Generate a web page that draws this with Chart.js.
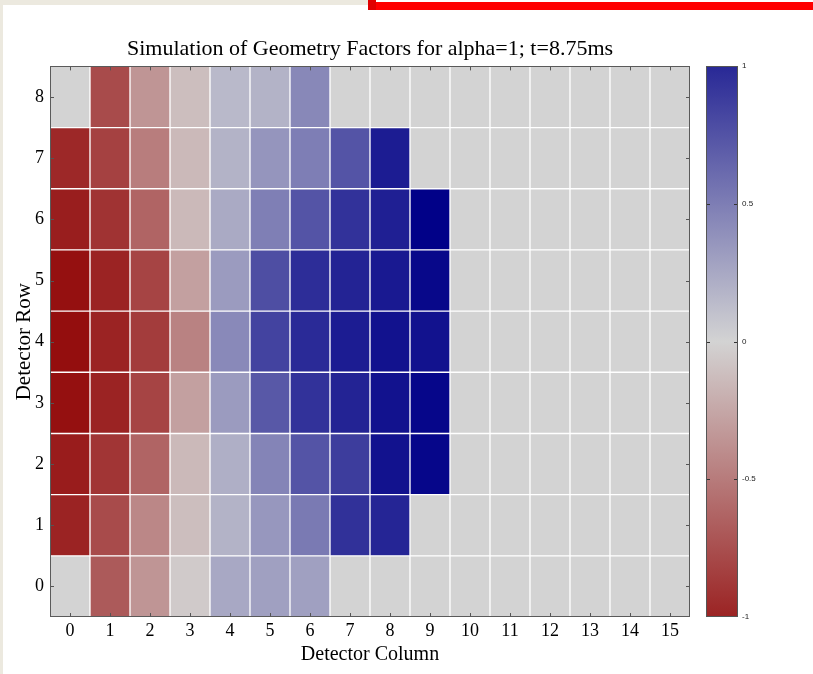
<!DOCTYPE html>
<html>
<head>
<meta charset="utf-8">
<script src="https://cdn.jsdelivr.net/npm/chart.js@4.4.0/dist/chart.umd.min.js"></script>
<style>
    body { margin: 0; background: #fff; width: 813px; height: 674px; position: relative; overflow: hidden; }
    #strip-top { position: absolute; left: 0; top: 0; width: 368px; height: 5px; background: #ece9df; }
    #strip-left { position: absolute; left: 0; top: 0; width: 3px; height: 674px; background: #ece9df; }
    #redbar { position: absolute; left: 368px; top: 2px; width: 445px; height: 8px; background: #ff0000; }
    #redbar-edge { position: absolute; left: 368px; top: 0; width: 8px; height: 10px; background: #e00000; }
    #main { position: absolute; left: 0; top: 0; }
    #cbar { position: absolute; left: 700px; top: 0; }
</style>
</head>
<body>
<div id="strip-top"></div>
<div id="strip-left"></div>
<div id="redbar"></div>
<div id="redbar-edge"></div>
<canvas id="main" width="700" height="674"></canvas>
<canvas id="cbar" width="113" height="674"></canvas>
<script>
// cot va hang cua detector
const columns = ['0', '1', '2', '3', '4', '5', '6', '7', '8', '9', '10', '11', '12', '13', '14', '15']
const rows = [0, 1, 2, 3, 4, 5, 6, 7, 8]

// gia tri tung hang, cot 0 -> 15
const row0 = [0, -0.69, -0.35, -0.05, 0.25, 0.30, 0.30, 0, 0, 0, 0, 0, 0, 0, 0, 0]
const row1 = [-1.00, -0.77, -0.43, -0.12, 0.19, 0.35, 0.52, 0.95, 1.02, 0, 0, 0, 0, 0, 0, 0]
const row2 = [-1.04, -0.90, -0.63, -0.15, 0.21, 0.46, 0.74, 0.88, 1.13, 1.20, 0, 0, 0, 0, 0, 0]
const row3 = [-1.11, -1.00, -0.81, -0.29, 0.33, 0.72, 0.94, 1.03, 1.13, 1.20, 0, 0, 0, 0, 0, 0]
const row4 = [-1.12, -1.00, -0.86, -0.46, 0.43, 0.84, 0.99, 1.07, 1.13, 1.13, 0, 0, 0, 0, 0, 0]
const row5 = [-1.11, -1.00, -0.81, -0.29, 0.33, 0.78, 0.97, 1.03, 1.09, 1.19, 0, 0, 0, 0, 0, 0]
const row6 = [-1.03, -0.91, -0.63, -0.15, 0.24, 0.49, 0.74, 0.94, 1.05, 1.23, 0, 0, 0, 0, 0, 0]
const row7 = [-0.97, -0.83, -0.49, -0.15, 0.19, 0.36, 0.50, 0.74, 1.07, 0, 0, 0, 0, 0, 0, 0]
const row8 = [0, -0.77, -0.35, -0.12, 0.15, 0.19, 0.44, 0, 0, 0, 0, 0, 0, 0, 0, 0]
const rowValues = [row0, row1, row2, row3, row4, row5, row6, row7, row8]

// thang mau
const cbTicks = [-1, -0.5, 0, 0.5, 1]
const NEG = [155, 35, 35]
const MID = [211, 211, 211]
const POS = [40, 40, 150]

const colorFor = (v) => {
    const end = v < 0 ? NEG : POS
    const t = Math.abs(v)
    const c = MID.map((m, i) => Math.max(0, Math.min(255, Math.round(m + (end[i] - m) * t))))
    return `rgb(${c.join(',')})`
}

const serif = "'Liberation Serif', 'DejaVu Serif', serif"

// khung va vach chia ben trong
const framePlugin = {
    id: 'frame',
    afterDatasetsDraw(chart, args, opts) {
        const { ctx, chartArea: a } = chart
        ctx.save()
        ctx.strokeStyle = opts.color
        ctx.lineWidth = 1
        ctx.beginPath()
        const xs = chart.scales.x
        if (opts.xTicks) {
            xs.ticks.forEach((t, i) => {
                const px = Math.round(xs.getPixelForTick(i)) + 0.5
                ctx.moveTo(px, a.bottom); ctx.lineTo(px, a.bottom - opts.len)
                ctx.moveTo(px, a.top); ctx.lineTo(px, a.top + opts.len)
            })
        }
        const ys = chart.scales.y
        opts.yTicks.forEach((v) => {
            const py = Math.round(ys.getPixelForValue(v)) + 0.5
            ctx.moveTo(a.left, py); ctx.lineTo(a.left + opts.len, py)
            ctx.moveTo(a.right, py); ctx.lineTo(a.right - opts.len, py)
        })
        ctx.stroke()
        ctx.strokeStyle = opts.border
        ctx.strokeRect(Math.round(a.left) + 0.5, Math.round(a.top) + 0.5,
            Math.round(a.right - a.left) - 1, Math.round(a.bottom - a.top) - 1)
        ctx.restore()
    }
}

const showHeatmap = () => {
    const datasets = rows.map((r) => ({
        label: 'row ' + r,
        data: columns.map(() => [r - 0.5, r + 0.5]),
        backgroundColor: rowValues[r].map(colorFor),
        borderColor: 'rgba(255,255,255,0.42)',
        borderWidth: 1,
        borderSkipped: false,
        grouped: false,
        barPercentage: 1,
        categoryPercentage: 1
    }))

    new Chart(document.getElementById('main'), {
        type: 'bar',
        data: { labels: columns, datasets: datasets },
        options: {
            responsive: false,
            animation: false,
            layout: { padding: { left: 6, right: 10, top: 0, bottom: 3 } },
            plugins: {
                legend: { display: false },
                tooltip: { enabled: false },
                title: {
                    display: true,
                    fullSize: false,
                    text: 'Simulation of Geometry Factors for alpha=1; t=8.75ms',
                    color: '#000',
                    font: { family: serif, size: 22, weight: 'normal' },
                    padding: { top: 36, bottom: 4 }
                },
                frame: { color: '#555', border: '#5a5a5a', len: 4, xTicks: true, yTicks: rows }
            },
            scales: {
                x: {
                    type: 'category',
                    grid: { display: false, drawTicks: false },
                    border: { display: false },
                    ticks: { color: '#000', padding: 3, font: { family: serif, size: 18 } },
                    title: {
                        display: true, text: 'Detector Column', color: '#000',
                        font: { family: serif, size: 20 }, padding: { top: 0, bottom: 4 }
                    },
                    afterFit: (s) => { s.height = 54 }
                },
                y: {
                    type: 'linear',
                    min: -0.5,
                    max: 8.5,
                    grid: { display: false, drawTicks: false },
                    border: { display: false },
                    afterBuildTicks: (s) => { s.ticks = rows.map((v) => ({ value: v })) },
                    ticks: { color: '#000', padding: 6, font: { family: serif, size: 18 } },
                    title: {
                        display: true, text: 'Detector Row', color: '#000',
                        font: { family: serif, size: 21 }, padding: { top: 6, bottom: 0 }
                    },
                    afterFit: (s) => { s.width = 44 }
                }
            }
        },
        plugins: [framePlugin]
    })
}

const showColorbar = () => {
    new Chart(document.getElementById('cbar'), {
        type: 'bar',
        data: {
            labels: ['cb'],
            datasets: [{
                data: [[cbTicks[0], cbTicks[cbTicks.length - 1]]],
                backgroundColor: (c) => {
                    const chart = c.chart
                    if (!chart.chartArea) return MID
                    const ys = chart.scales.y
                    const g = chart.ctx.createLinearGradient(0, ys.getPixelForValue(-1), 0, ys.getPixelForValue(1))
                    g.addColorStop(0, colorFor(-1))
                    g.addColorStop(0.5, colorFor(0))
                    g.addColorStop(1, colorFor(1))
                    return g
                },
                borderWidth: 0,
                barPercentage: 1,
                categoryPercentage: 1
            }]
        },
        options: {
            responsive: false,
            animation: false,
            layout: { padding: { left: 6, right: 0, top: 66, bottom: 57 } },
            plugins: {
                legend: { display: false },
                tooltip: { enabled: false },
                frame: { color: '#333', border: '#555', len: 4, xTicks: false, yTicks: [-0.5, 0, 0.5] }
            },
            scales: {
                x: { display: false },
                y: {
                    position: 'right',
                    min: -1,
                    max: 1,
                    grid: { display: false, drawTicks: false },
                    border: { display: false },
                    afterBuildTicks: (s) => { s.ticks = cbTicks.map((v) => ({ value: v })) },
                    ticks: {
                        color: '#222', padding: 4,
                        font: { family: "'Liberation Sans', Arial, sans-serif", size: 8 },
                        callback: (v) => String(v)
                    },
                    afterFit: (s) => { s.width = 75 }
                }
            }
        },
        plugins: [framePlugin]
    })
}

window.onload = function () {
    showHeatmap()
    showColorbar()
}
</script>
</body>
</html>
